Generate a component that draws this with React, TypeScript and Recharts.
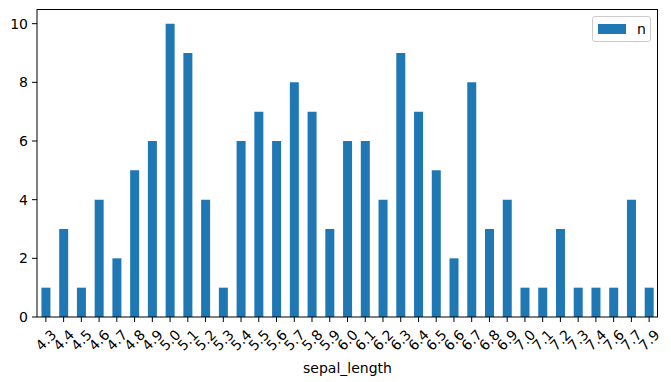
import React from 'react';
import { BarChart, Bar, XAxis, YAxis } from 'recharts';

const sepalLengths = [
  '4.3', '4.4', '4.5', '4.6', '4.7', '4.8', '4.9', '5.0', '5.1', '5.2', '5.3', '5.4',
  '5.5', '5.6', '5.7', '5.8', '5.9', '6.0', '6.1', '6.2', '6.3', '6.4', '6.5', '6.6',
  '6.7', '6.8', '6.9', '7.0', '7.1', '7.2', '7.3', '7.4', '7.6', '7.7', '7.9',
];
const counts = [
  1, 3, 1, 4, 2, 5, 6, 10, 9, 4, 1, 6, 7, 6, 8, 7, 3, 6, 6, 4, 9, 7, 5, 2,
  8, 3, 4, 1, 1, 3, 1, 1, 1, 4, 1,
];
const yTicks = [0, 2, 4, 6, 8, 10];

const data = sepalLengths.map((label, i) => ({ label, n: counts[i] }));

const FONT = 'DejaVu Sans, sans-serif';
const BLUE = '#1f77b4';

const RotatedTick = (props: any) => {
  const { x, y, payload } = props;
  return (
    <g transform={`translate(${x},${y + 16})`}>
      <text
        transform="rotate(-45)"
        textAnchor="middle"
        dominantBaseline="central"
        fontSize={14}
        fontFamily={FONT}
        fill="#000"
      >
        {payload.value}
      </text>
    </g>
  );
};

const App: React.FC = () => (
  <div style={{ position: 'absolute', left: 0, top: 0, width: 671, height: 382, background: '#fff' }}>
    <BarChart
      width={671}
      height={382}
      data={data}
      margin={{ top: 9, right: 13, bottom: 0, left: 0 }}
      barCategoryGap="25%"
    >
      <XAxis
        dataKey="label"
        interval={0}
        height={65}
        tick={<RotatedTick />}
        tickSize={5}
        axisLine={{ stroke: '#000' }}
        tickLine={{ stroke: '#000' }}
        label={{
          value: 'sepal_length',
          position: 'insideBottom',
          offset: 9,
          fill: '#000',
          fontSize: 14,
          fontFamily: FONT,
        }}
      />
      <YAxis
        width={37}
        domain={[0, 10.5]}
        ticks={yTicks}
        tickSize={5}
        tickMargin={4}
        axisLine={{ stroke: '#000' }}
        tickLine={{ stroke: '#000' }}
        tick={{ fill: '#000', fontSize: 14, fontFamily: FONT }}
      />
      <Bar dataKey="n" fill={BLUE} isAnimationActive={false} />
    </BarChart>
    {/* top and right spines */}
    <div
      style={{
        position: 'absolute',
        left: 37,
        top: 9,
        width: 621,
        height: 308,
        borderTop: '1px solid #000',
        borderRight: '1px solid #000',
        boxSizing: 'border-box',
        pointerEvents: 'none',
      }}
    />
    <div
      style={{
        position: 'absolute',
        top: 16,
        left: 592,
        border: '1px solid #cccccc',
        borderRadius: 3,
        background: 'rgba(255,255,255,0.8)',
        boxSizing: 'border-box',
        width: 59,
        height: 26,
        display: 'flex',
        alignItems: 'center',
        paddingLeft: 5,
        fontFamily: FONT,
        fontSize: 14,
      }}
    >
      <span style={{ display: 'inline-block', width: 28, height: 10, background: BLUE, marginRight: 11 }} />
      <span>n</span>
    </div>
  </div>
);

export default App;
